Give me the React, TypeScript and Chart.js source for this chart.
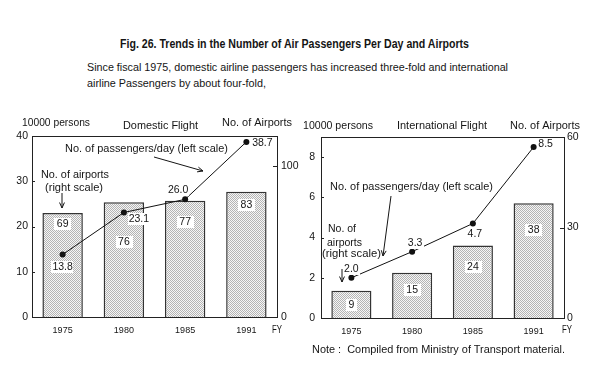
import React, { useEffect, useLayoutEffect, useRef } from "react";
import { Chart, registerables } from "chart.js";

Chart.register(...registerables);

// ---------- data ----------
const years = ["1975", "1980", "1985", "1991"];
const domesticPassengers = [13.8, 23.1, 26.0, 38.7]; // 10000 persons/day (left)
const domesticAirports = [69, 76, 77, 83]; // right
const intlPassengers = [2.0, 3.3, 4.7, 8.5];
const intlAirports = [9, 15, 24, 38];
const domesticLeftTicks = [0, 10, 20, 30, 40];
const domesticRightTicks = [0, 100];
const intlLeftTicks = [0, 2, 4, 6, 8];
const intlRightTicks = [0, 30, 60];

const FONT = '"Liberation Sans", Arial, sans-serif';
const INK = "#151515";

type Txt = { s: string; x: number; y: number; size: number; w?: number; align?: "left" | "center" | "right"; bold?: boolean };

function drawText(ctx: CanvasRenderingContext2D, t: Txt, bg = false, padX = 2) {
  ctx.save();
  ctx.font = `${t.bold ? "bold " : ""}${t.size}px ${FONT}`;
  const m = ctx.measureText(t.s).width;
  const k = t.w ? t.w / m : 1;
  const dw = m * k;
  const align = t.align || "left";
  let lx = t.x;
  if (align === "center") lx = t.x - dw / 2;
  if (align === "right") lx = t.x - dw;
  if (bg) {
    ctx.fillStyle = "#fff";
    const h = t.size + 1;
    ctx.fillRect(Math.round(lx - padX), Math.round(t.y - h / 2), Math.round(dw + padX * 2), Math.round(h));
  }
  ctx.translate(lx, t.y);
  ctx.scale(k, 1);
  ctx.fillStyle = INK;
  ctx.textBaseline = "middle";
  ctx.textAlign = "left";
  ctx.fillText(t.s, 0, 0.5);
  ctx.restore();
}

function drawArrow(ctx: CanvasRenderingContext2D, a: number[]) {
  const [x1, y1, x2, y2] = a;
  const ang = Math.atan2(y2 - y1, x2 - x1);
  const L = 6;
  const spread = 0.42;
  ctx.save();
  ctx.strokeStyle = INK;
  ctx.lineWidth = 1;
  ctx.beginPath();
  ctx.moveTo(x1, y1);
  ctx.lineTo(x2, y2);
  ctx.moveTo(x2 - L * Math.cos(ang - spread), y2 - L * Math.sin(ang - spread));
  ctx.lineTo(x2, y2);
  ctx.lineTo(x2 - L * Math.cos(ang + spread), y2 - L * Math.sin(ang + spread));
  ctx.stroke();
  ctx.restore();
}

type PanelSpec = {
  passengers: number[];
  airports: number[];
  leftTicks: number[];
  rightTicks: number[];
  leftMax: number;
  rightMax: number;
  axisLeftW: number;
  axisRightW: number;
  axisBottomH: number;
  padTop: number;
  leftPad: number;
  rightPad: number;
  texts: Txt[];
  arrows: number[][];
  barLabelOffsets: number[];
  pointLabelOffsets: number[][];
};

const domesticSpec: PanelSpec = {
  passengers: domesticPassengers,
  airports: domesticAirports,
  leftTicks: domesticLeftTicks,
  rightTicks: domesticRightTicks,
  leftMax: 40,
  rightMax: 120,
  axisLeftW: 32,
  axisRightW: 23,
  axisBottomH: 28,
  padTop: 26,
  leftPad: 4,
  rightPad: 4,
  texts: [
    { s: "10000 persons", x: 22, y: 13, size: 10.5, w: 68 },
    { s: "Domestic Flight", x: 123, y: 16, size: 10.5, w: 75 },
    { s: "No. of Airports", x: 222, y: 13, size: 10.5, w: 70 },
    { s: "No. of passengers/day (left scale)", x: 65, y: 39, size: 10.5, w: 163 },
    { s: "No. of airports", x: 41, y: 65, size: 10.5, w: 68 },
    { s: "(right scale)", x: 45, y: 78, size: 10.5, w: 58 },
    { s: "FY", x: 272, y: 220, size: 10, w: 10 },
  ],
  arrows: [
    [154, 47, 203, 61],
    [62, 83, 62, 98],
  ],
  barLabelOffsets: [11, 39, 21, 13],
  pointLabelOffsets: [
    [0, 12],
    [15, 6],
    [-7, -10],
    [16, 1],
  ],
};

const intlSpec: PanelSpec = {
  passengers: intlPassengers,
  airports: intlAirports,
  leftTicks: intlLeftTicks,
  rightTicks: intlRightTicks,
  leftMax: 9,
  rightMax: 60,
  axisLeftW: 21,
  axisRightW: 36,
  axisBottomH: 27,
  padTop: 27,
  leftPad: 6,
  rightPad: 3,
  texts: [
    { s: "10000 persons", x: 3, y: 16, size: 10.5, w: 70 },
    { s: "International Flight", x: 97, y: 16, size: 10.5, w: 90 },
    { s: "No. of Airports", x: 210, y: 15.5, size: 10.5, w: 70 },
    { s: "No. of passengers/day (left scale)", x: 30, y: 77, size: 10.5, w: 163 },
    { s: "No. of", x: 28, y: 119, size: 10.5, w: 28 },
    { s: "airports", x: 27, y: 133, size: 10.5, w: 35 },
    { s: "(right scale)", x: 22, y: 144, size: 10.5, w: 59 },
    { s: "FY", x: 262, y: 220, size: 10, w: 10 },
  ],
  arrows: [
    [91, 86, 83, 146],
    [42, 159, 42, 172],
  ],
  barLabelOffsets: [14, 17, 21, 26],
  pointLabelOffsets: [
    [0, -9],
    [3, -9],
    [2, 10],
    [12, -3],
  ],
};

function Panel({ spec, left, top }: { spec: PanelSpec; left: number; top: number }) {
  const ref = useRef<HTMLCanvasElement>(null);
  useEffect(() => {
    const canvas = ref.current!;
    const ctx = canvas.getContext("2d")!;
    const pc = document.createElement("canvas");
    pc.width = 2;
    pc.height = 2;
    const p = pc.getContext("2d")!;
    p.fillStyle = "#f6f6f6";
    p.fillRect(0, 0, 2, 2);
    p.fillStyle = "#b4b4b4";
    p.fillRect(0, 0, 1, 1);
    p.fillRect(1, 1, 1, 1);
    const pattern = ctx.createPattern(pc, "repeat")!;

    const annot = {
      id: "annot",
      afterDatasetsDraw(chart: any) {
        const c: CanvasRenderingContext2D = chart.ctx;
        const a = chart.chartArea;
        c.save();
        c.strokeStyle = "#222";
        c.lineWidth = 1;
        c.beginPath();
        c.moveTo(a.left, a.top + 0.5);
        c.lineTo(a.right, a.top + 0.5);
        c.stroke();
        // inward tick marks
        const yl = chart.scales.y;
        const yr = chart.scales.y1;
        c.beginPath();
        spec.leftTicks.forEach((v) => {
          const py = Math.round(yl.getPixelForValue(v)) + 0.5;
          if (v !== 0 && v !== spec.leftMax) {
            c.moveTo(a.left, py);
            c.lineTo(a.left + 3, py);
          }
        });
        spec.rightTicks.forEach((v) => {
          const py = Math.round(yr.getPixelForValue(v)) + 0.5;
          if (v !== 0 && v !== spec.rightMax) {
            c.moveTo(a.right - 4, py);
            c.lineTo(a.right, py);
          }
        });
        c.stroke();
        c.restore();

        const bars = chart.getDatasetMeta(0).data;
        bars.forEach((b: any, i: number) => {
          drawText(c, { s: String(spec.airports[i]), x: b.x, y: b.y + spec.barLabelOffsets[i], size: 10.5, align: "center" }, true, 2.5);
        });
        const pts = chart.getDatasetMeta(1).data;
        pts.forEach((pt: any, i: number) => {
          const [dx, dy] = spec.pointLabelOffsets[i];
          drawText(c, { s: spec.passengers[i].toFixed(1), x: pt.x + dx, y: pt.y + dy, size: 10.5, align: "center" }, true, 1);
        });
        spec.texts.forEach((t) => drawText(c, t));
        spec.arrows.forEach((ar) => drawArrow(c, ar));
      },
    };

    const tickFont = { family: FONT, size: 10.5 };
    const chart = new Chart(canvas, {
      type: "bar",
      data: {
        labels: years,
        datasets: [
          {
            type: "bar",
            data: spec.airports,
            yAxisID: "y1",
            backgroundColor: pattern as any,
            borderColor: "#333",
            borderWidth: 1.5,
            barPercentage: 0.66,
            categoryPercentage: 1,
            order: 2,
          },
          {
            type: "line",
            data: spec.passengers,
            yAxisID: "y",
            borderColor: "#111",
            borderWidth: 1,
            pointRadius: 3,
            pointBackgroundColor: "#111",
            pointBorderColor: "#111",
            pointBorderWidth: 0,
            order: 1,
          } as any,
        ],
      },
      options: {
        responsive: false,
        animation: false,
        events: [],
        layout: { padding: { top: spec.padTop, left: 0, right: 0, bottom: 0 } },
        plugins: { legend: { display: false }, tooltip: { enabled: false }, title: { display: false } },
        scales: {
          x: {
            type: "category",
            grid: { display: false, drawTicks: false },
            border: { display: true, color: "#222", width: 1 },
            ticks: { font: { family: FONT, size: 9 }, color: INK, padding: 8, maxRotation: 0 },
            afterFit: (s: any) => {
              s.height = spec.axisBottomH;
            },
          },
          y: {
            position: "left",
            min: 0,
            max: spec.leftMax,
            grid: { display: false, drawTicks: false },
            border: { display: true, color: "#222", width: 1 },
            ticks: { font: tickFont, color: INK, padding: spec.leftPad },
            afterBuildTicks: (s: any) => {
              s.ticks = spec.leftTicks.map((v) => ({ value: v }));
            },
            afterFit: (s: any) => {
              s.width = spec.axisLeftW;
            },
          },
          y1: {
            position: "right",
            min: 0,
            max: spec.rightMax,
            grid: { display: false, drawTicks: false },
            border: { display: true, color: "#222", width: 1 },
            ticks: { font: tickFont, color: INK, padding: spec.rightPad },
            afterBuildTicks: (s: any) => {
              s.ticks = spec.rightTicks.map((v) => ({ value: v }));
            },
            afterFit: (s: any) => {
              s.width = spec.axisRightW;
            },
          },
        },
      } as any,
      plugins: [annot as any],
    });
    return () => chart.destroy();
  }, [spec]);
  return (
    <canvas
      ref={ref}
      width={300}
      height={235}
      style={{ position: "absolute", left, top, width: 300, height: 235, display: "block" }}
    />
  );
}

function FitText({ text, x, y, w, size, bold }: { text: string; x: number; y: number; w: number; size: number; bold?: boolean }) {
  const ref = useRef<HTMLSpanElement>(null);
  useLayoutEffect(() => {
    const el = ref.current!;
    el.style.transform = "none";
    const m = el.getBoundingClientRect().width;
    el.style.transform = `scaleX(${w / m})`;
  }, [text, w]);
  return (
    <span
      ref={ref}
      style={{
        position: "absolute",
        left: x,
        top: y - size * 0.6,
        fontSize: size,
        lineHeight: `${size * 1.2}px`,
        whiteSpace: "pre",
        transformOrigin: "left center",
        fontWeight: bold ? 700 : 400,
        fontFamily: FONT,
        color: INK,
      }}
    >
      {text}
    </span>
  );
}

export default function App() {
  return (
    <div style={{ position: "absolute", left: 0, top: 0, width: 600, height: 377, background: "#fff", overflow: "hidden" }}>
      <FitText text="Fig. 26. Trends in the Number of Air Passengers Per Day and Airports" x={120} y={44} w={349} size={12} bold />
      <FitText text="Since fiscal 1975, domestic airline passengers has increased three-fold and international" x={87} y={68} w={421} size={11} />
      <FitText text="airline Passengers by about four-fold," x={87} y={84} w={179} size={11} />
      <Panel spec={domesticSpec} left={0} top={110} />
      <Panel spec={intlSpec} left={300} top={110} />
      <FitText text="Note :  Compiled from Ministry of Transport material." x={312} y={350} w={253} size={11} />
    </div>
  );
}
